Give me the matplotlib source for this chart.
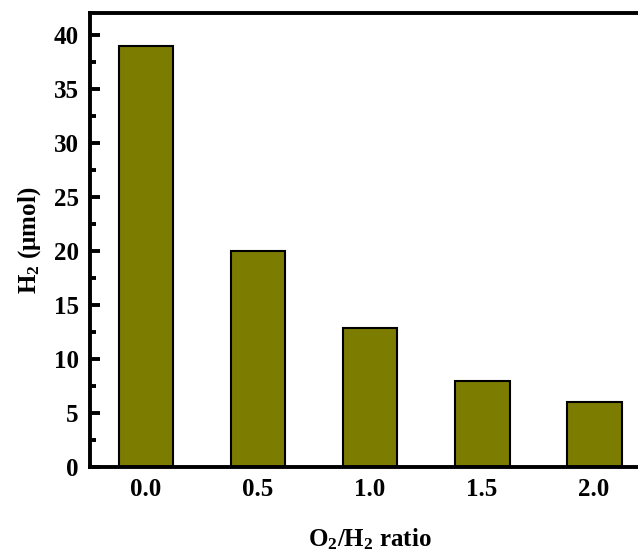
import matplotlib

matplotlib.use("Agg")
import matplotlib.pyplot as plt
from matplotlib.ticker import MultipleLocator

ratios = ["0.0", "0.5", "1.0", "1.5", "2.0"]
h2_umol = [39.0, 20.0, 12.9, 8.0, 6.0]

plt.rcParams["font.family"] = "Liberation Serif"
plt.rcParams["font.weight"] = "bold"
plt.rcParams["mathtext.fontset"] = "custom"
plt.rcParams["mathtext.rm"] = "Liberation Serif:bold"
plt.rcParams["mathtext.bf"] = "Liberation Serif:bold"
plt.rcParams["mathtext.it"] = "Liberation Serif:bold"

fig = plt.figure(figsize=(6.38, 5.52), dpi=100)
ax = fig.add_axes([0.141, 0.154, 0.878, 0.822])

x = range(len(ratios))
ax.bar(x, h2_umol, width=0.49, color="#7c7c00", edgecolor="black", linewidth=1.5, zorder=2)

ax.set_xlim(-0.5, 4.5)
ax.set_ylim(0, 42)
ax.set_xticks(list(x))
ax.set_xticklabels(ratios)
ax.yaxis.set_major_locator(MultipleLocator(5))
ax.yaxis.set_minor_locator(MultipleLocator(2.5))

for s in ax.spines.values():
    s.set_linewidth(2.8)
ax.tick_params(axis="both", which="major", direction="in", length=7, width=2.8,
               labelsize=18, pad=8, zorder=3)
ax.tick_params(axis="y", which="minor", direction="in", length=4, width=2.8)
ax.tick_params(axis="x", which="major", pad=8)

ax.set_ylabel(r"$\mathrm{H_2}$ (μmol)", fontsize=18, fontweight="bold", labelpad=8)
ax.set_xlabel(r"$\mathrm{O_2/H_2}$ ratio", fontsize=18, fontweight="bold", labelpad=18)

fig.savefig("out.png", dpi=100)
